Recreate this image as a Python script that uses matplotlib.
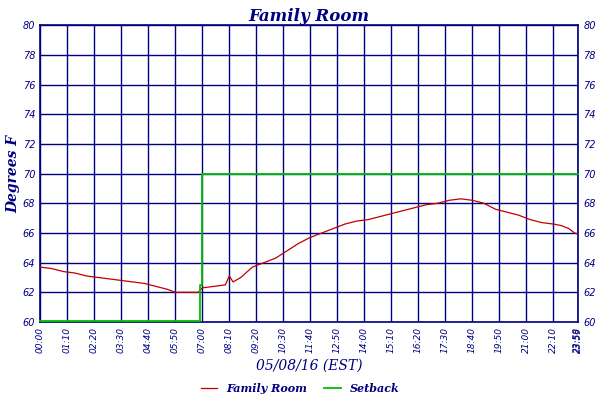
import matplotlib
matplotlib.use('Agg')
import matplotlib.pyplot as plt
import numpy as np

# DATA (minutes after midnight, degrees F)
room_min = [0, 30, 60, 90, 120, 150, 180, 210, 240, 270, 300, 330, 350, 410, 420, 450, 480,
            490, 500, 520, 550, 580, 610, 640, 670, 700, 730, 760, 790, 820, 850, 880, 910,
            940, 970, 1000, 1030, 1060, 1090, 1120, 1150, 1180, 1210, 1240, 1270, 1300, 1330,
            1350, 1370, 1385, 1395]
room_temp = [63.7, 63.6, 63.4, 63.3, 63.1, 63.0, 62.9, 62.8, 62.7, 62.6, 62.4, 62.2, 62.0, 62.0, 62.3,
             62.4, 62.5, 63.1, 62.7, 63.0, 63.7, 64.0, 64.3, 64.8, 65.3, 65.7, 66.0, 66.3, 66.6,
             66.8, 66.9, 67.1, 67.3, 67.5, 67.7, 67.9, 68.0, 68.2, 68.3, 68.2, 68.0, 67.6, 67.4,
             67.2, 66.9, 66.7, 66.6, 66.5, 66.3, 66.0, 65.9]
setback_min = [0, 414, 415, 419, 420, 1395]
setback_temp = [60.08, 60.08, 62.5, 67.5, 70, 70]
tick_min = list(range(0, 1331, 70)) + [1393, 1395]
tick_labels = ['00:00', '01:10', '02:20', '03:30', '04:40', '05:50', '07:00', '08:10', '09:20',
               '10:30', '11:40', '12:50', '14:00', '15:10', '16:20', '17:30', '18:40', '19:50',
               '21:00', '22:10', '23:58', '23:59']

navy = '#000080'
fig = plt.figure(figsize=(6, 4), dpi=100)
ax = fig.add_axes([0.067, 0.195, 0.897, 0.742])

ax.step(setback_min, setback_temp, where='post', color='#00c000', lw=1.3, zorder=5,
        label='Setback', clip_on=False)
ax.plot(room_min, room_temp, color='#c00000', lw=0.9, zorder=4, label='Family Room')

ax.set_xlim(0, 1395)
ax.set_ylim(60, 80)
ax.set_yticks(range(60, 81, 2))
ax.set_xticks(tick_min)
ax.set_xticklabels(tick_labels, rotation=90, fontsize=6.5, style='italic', color=navy)
ax.tick_params(axis='y', labelsize=7, colors=navy, length=0, labelright=True)
ax.tick_params(axis='x', length=0, colors=navy)
for lab in ax.get_yticklabels():
    lab.set_style('italic')
ax.grid(True, color=navy, lw=1)
for s in ax.spines.values():
    s.set_color(navy)
    s.set_linewidth(1.2)

ax.set_title('Family Room', fontsize=12, style='italic', weight='bold', color=navy,
             family='DejaVu Serif', pad=3)
ax.set_ylabel('Degrees F', fontsize=10, style='italic', weight='bold', color=navy,
              family='DejaVu Serif', labelpad=2)
ax.set_xlabel('05/08/16 (EST)', fontsize=10, style='italic', color=navy,
              family='DejaVu Serif', labelpad=4)

h, l = ax.get_legend_handles_labels()
leg = fig.legend(h[::-1], l[::-1], loc='lower center', bbox_to_anchor=(0.5, -0.01), ncol=2,
                 frameon=False, handlelength=1.5, columnspacing=1.5,
                 prop={'style': 'italic', 'weight': 'bold', 'family': 'DejaVu Serif', 'size': 8})
for t in leg.get_texts():
    t.set_color(navy)

fig.savefig('out.png', dpi=100)
